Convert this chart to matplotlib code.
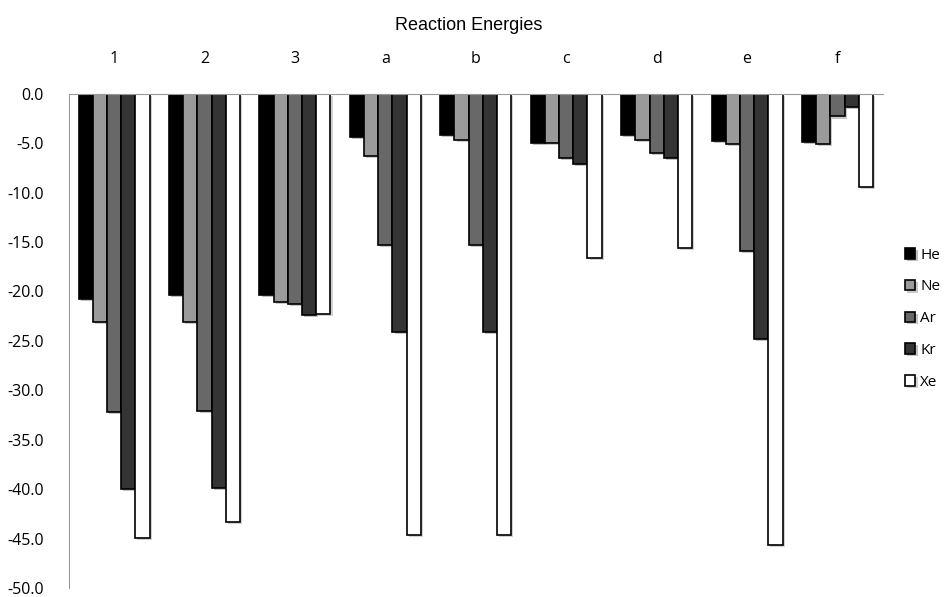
import matplotlib
matplotlib.use('Agg')
import matplotlib.pyplot as plt
import matplotlib.patheffects as pe
import numpy as np

categories = ['1', '2', '3', 'a', 'b', 'c', 'd', 'e', 'f']
series = ['He', 'Ne', 'Ar', 'Kr', 'Xe']
he = [-20.8, -20.4, -20.4, -4.4, -4.2, -5.0, -4.2, -4.8, -4.9]
ne = [-23.1, -23.1, -21.1, -6.3, -4.7, -5.0, -4.7, -5.1, -5.1]
ar = [-32.2, -32.1, -21.3, -15.3, -15.3, -6.5, -6.0, -15.9, -2.3]
kr = [-40.0, -39.9, -22.4, -24.1, -24.1, -7.1, -6.5, -24.8, -1.3]
xe = [-44.9, -43.3, -22.3, -44.6, -44.6, -16.6, -15.6, -45.6, -9.4]
colors = ['#000000', '#9a9a9a', '#686868', '#343434', '#ffffff']

values = [he, ne, ar, kr, xe]

fig = plt.figure(figsize=(9.44, 5.97), dpi=100)
ax = fig.add_axes([0.073, 0.015, 0.862, 0.828])

x = np.arange(len(categories))
w = 0.157
shadow = [pe.SimplePatchShadow(offset=(1.5, -1.5), alpha=0.25), pe.Normal()]
for i, (name, vals, c) in enumerate(zip(series, values, colors)):
    bars = ax.bar(x + (i - 2) * w, vals, w, color=c, edgecolor='black',
                  linewidth=1.2, label=name, zorder=3)
    for b in bars:
        b.set_path_effects(shadow)

ax.set_xlim(-0.5, len(categories) - 0.5)
ax.set_ylim(-50, 0)
ax.set_yticks(np.arange(-50, 1, 5))
ax.set_yticklabels([f'{v:.1f}' for v in np.arange(-50, 1, 5)],
                   fontsize=11.5, family='Open Sans')
ax.tick_params(axis='y', length=0, pad=18)

ax.xaxis.tick_top()
ax.set_xticks(x)
ax.set_xticklabels(categories, fontsize=11.5, family='Open Sans')
ax.tick_params(axis='x', length=0, pad=19)

for s in ['right', 'bottom']:
    ax.spines[s].set_visible(False)
ax.spines['top'].set_color('#999999')
ax.spines['left'].set_color('#999999')
ax.spines['top'].set_zorder(4)

fig.text(0.497, 0.957, 'Reaction Energies', ha='center', va='center',
         fontsize=13, family='Liberation Sans')

# legend kept just inside the right edge so the labels stay readable
fig.legend(loc='center left', bbox_to_anchor=(0.952, 0.466), frameon=False,
           prop={'family': 'Open Sans', 'size': 11}, labelspacing=1.1,
           handlelength=0.7, handleheight=0.7, handletextpad=0.3,
           borderaxespad=0)

fig.savefig('out.png', dpi=100)
